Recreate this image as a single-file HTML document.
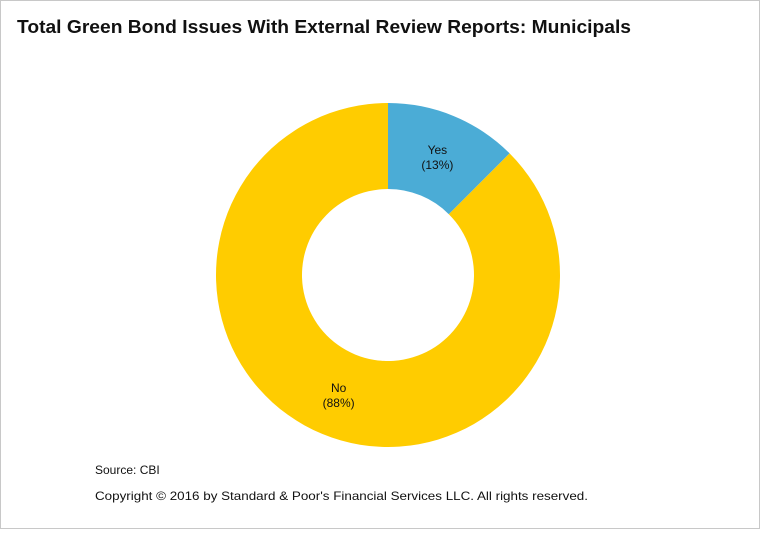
<!DOCTYPE html>
<html><head><meta charset="utf-8"><style>
html,body{margin:0;padding:0;background:#fff;}
#wrap{position:relative;width:758px;height:527px;border:1px solid #c8c8c8;font-family:"Liberation Sans",sans-serif;}
</style></head><body>
<div id="wrap">
<svg width="758" height="527" id="chart">
<text x="16" y="32" font-size="18" font-weight="bold" fill="#111" textLength="614" lengthAdjust="spacingAndGlyphs">Total Green Bond Issues With External Review Reports: Municipals</text>
<g id="slices"></g>
<text x="94" y="473" font-size="12" fill="#111">Source: CBI</text>
<text x="94" y="499" font-size="12" fill="#111" textLength="493" lengthAdjust="spacingAndGlyphs">Copyright © 2016 by Standard &amp; Poor's Financial Services LLC. All rights reserved.</text>
</svg>
</div>
<script>
const categories = ["Yes", "No"];
const values = [12.5, 87.5];
const labels = ["(13%)", "(88%)"];
const colors = ["#4BACD6", "#FFCC00"];
const cx = 387, cy = 274, R = 172, r = 86;
const g = document.getElementById('slices');
const total = values.reduce((a,b)=>a+b,0);
let acc = 0;
function pt(a, rad){ return [cx + rad*Math.sin(a), cy - rad*Math.cos(a)]; }
values.forEach((v,i)=>{
  const a0 = acc/total*2*Math.PI; acc += v; const a1 = acc/total*2*Math.PI;
  const large = (a1-a0) > Math.PI ? 1 : 0;
  const [x0,y0]=pt(a0,R),[x1,y1]=pt(a1,R),[x2,y2]=pt(a1,r),[x3,y3]=pt(a0,r);
  const p = document.createElementNS('http://www.w3.org/2000/svg','path');
  p.setAttribute('d',`M${x0},${y0}A${R},${R} 0 ${large} 1 ${x1},${y1}L${x2},${y2}A${r},${r} 0 ${large} 0 ${x3},${y3}Z`);
  p.setAttribute('fill',colors[i]);
  
  
  g.appendChild(p);
  const am = (a0+a1)/2; const [lx,ly]=pt(am,(R+r)/2);
  const t = document.createElementNS('http://www.w3.org/2000/svg','text');
  t.setAttribute('x',lx); t.setAttribute('y',ly-2);
  t.setAttribute('text-anchor','middle'); t.setAttribute('font-size','12'); t.setAttribute('fill','#111');
  
  
  const s1 = document.createElementNS('http://www.w3.org/2000/svg','tspan');
  s1.setAttribute('x',lx); s1.textContent = categories[i];
  const s2 = document.createElementNS('http://www.w3.org/2000/svg','tspan');
  s2.setAttribute('x',lx); s2.setAttribute('dy','15'); s2.textContent = labels[i];
  t.appendChild(s1); t.appendChild(s2);
  g.appendChild(t);
});
</script>
</body></html>
